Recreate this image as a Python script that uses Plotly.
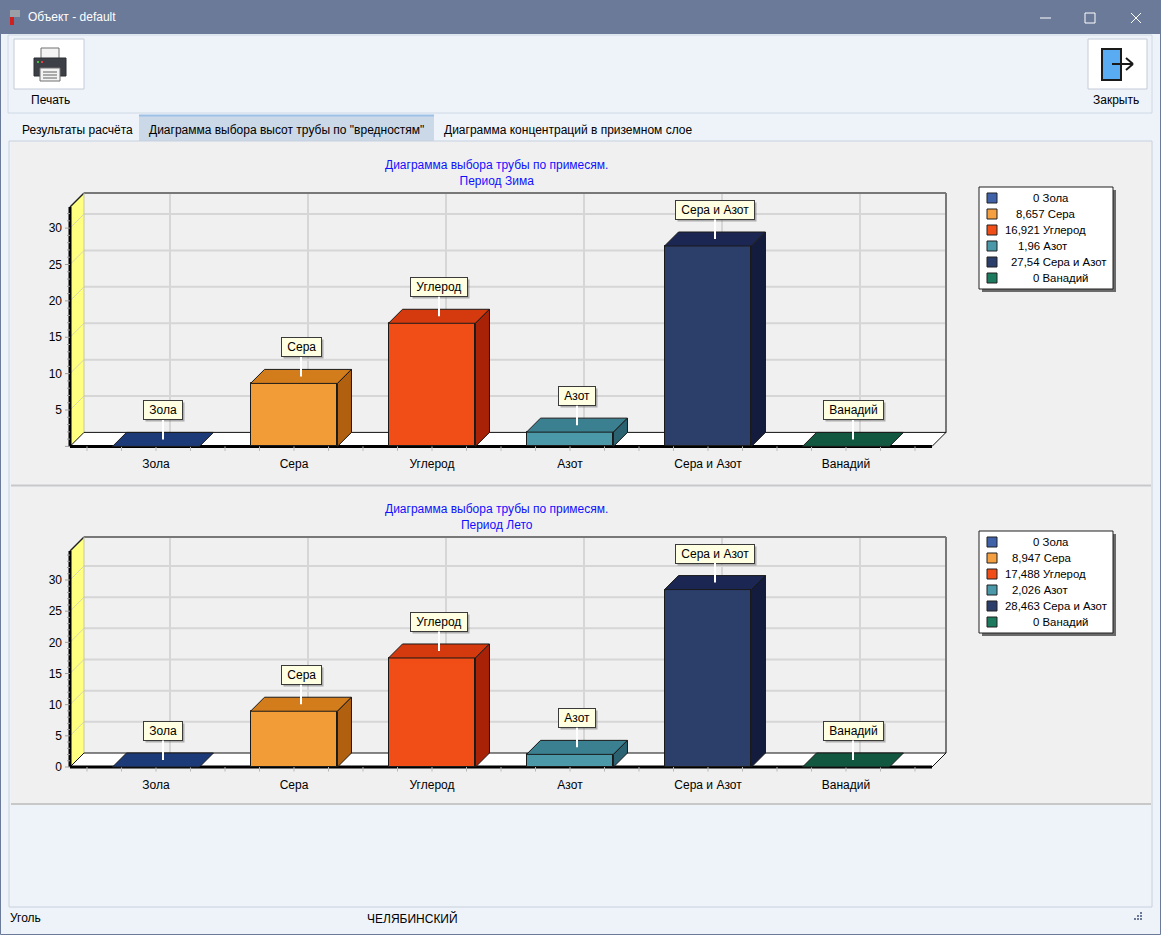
import plotly.graph_objects as go

# ---------------- data ----------------
categories = ["Зола", "Сера", "Углерод", "Азот", "Сера и Азот", "Ванадий"]
winter_values = [0, 8.657, 16.921, 1.96, 27.54, 0]
summer_values = [0, 8.947, 17.488, 2.026, 28.463, 0]
winter_ticks = [5, 10, 15, 20, 25, 30]
summer_ticks = [0, 5, 10, 15, 20, 25, 30]
chart_titles = ["Диаграмма выбора трубы по примесям.<br>Период Зима",
                "Диаграмма выбора трубы по примесям.<br>Период Лето"]
front_colors = ["#2f5496", "#f29c38", "#f04e16", "#4a98a8", "#2c3f6b", "#1c7a5e"]
top_colors = ["#1d3a78", "#d27c1c", "#d43a0e", "#3a8090", "#1b2652", "#12573f"]
side_colors = ["#142a5a", "#b0600f", "#a82208", "#2a6272", "#141c3e", "#0e4533"]
legend_colors = ["#3f62a8", "#f5a040", "#f04e16", "#4a98a8", "#2c3f6b", "#1c7a5e"]
tab_labels = ["Результаты расчёта", "Диаграмма выбора высот трубы по \"вредностям\"",
              "Диаграмма концентраций в приземном слое"]
window_title = "Объект - default"
status_left = "Уголь"
status_mid = "ЧЕЛЯБИНСКИЙ"

W, H = 1161, 935
FONT = "Liberation Sans, Arial, sans-serif"

def px(x):
    return x / W

def py(y):
    return 1 - y / H

shapes = []
annotations = []

def rect(x0, y0, x1, y1, fill=None, line=None, lw=1, layer="below"):
    shapes.append(dict(type="rect", xref="paper", yref="paper",
                       x0=px(x0), x1=px(x1), y0=py(y0), y1=py(y1),
                       fillcolor=fill if fill else "rgba(0,0,0,0)",
                       line=dict(color=line if line else "rgba(0,0,0,0)", width=lw if line else 0),
                       layer=layer))

def pline(x0, y0, x1, y1, color, lw=1, layer="below"):
    shapes.append(dict(type="line", xref="paper", yref="paper",
                       x0=px(x0), x1=px(x1), y0=py(y0), y1=py(y1),
                       line=dict(color=color, width=lw), layer=layer))

def text(x, y, s, anchor="left", size=12, color="black"):
    if anchor == "left":
        x -= 2
    annotations.append(dict(xref="paper", yref="paper", x=px(x), y=py(y), text=s,
                            xanchor=anchor, yanchor="middle", showarrow=False,
                            font=dict(family=FONT, size=size, color=color)))

# ---------------- window chrome ----------------
rect(0, 0, W, H, fill="#eef3fa")
rect(0, 0, W, 34, fill="#6b7a99")
rect(0.5, 0.5, W - 0.5, H - 0.5, line="#6b7a99", lw=1)
# title icon
rect(10, 10, 20, 17, fill="#9aa0a8")
rect(10, 17, 14, 25, fill="#d02020")
text(28, 17, window_title, color="white")
# window buttons
pline(1040, 18, 1051, 18, "white", 1)
rect(1085, 13, 1095, 23, line="white", lw=1)
pline(1131, 13, 1141, 23, "white", 1)
pline(1131, 23, 1141, 13, "white", 1)
# toolbar
rect(8, 35, 1152, 113, line="#cfd8e4", lw=1)
rect(14, 39, 84, 89, fill="white", line="#c4ccd8")
rect(41, 48, 59, 60, fill="#f4f4f4", line="#707070")
rect(34, 58, 66, 76, fill="#3c4046", line="#2a2d31")
rect(37, 61, 39, 63, fill="#40c040")
rect(41, 61, 43, 63, fill="#e04040")
rect(40, 68, 60, 81, fill="#f4f4f4", line="#707070")
pline(43, 72, 57, 72, "#606060", 1)
pline(43, 75, 57, 75, "#606060", 1)
pline(43, 78, 57, 78, "#606060", 1)
text(50, 100, "Печать", anchor="center")
rect(1088, 39, 1147, 89, fill="white", line="#c4ccd8")
rect(1102, 49, 1121, 80, fill="#5aacf2", line="#1a1a1a", lw=2)
pline(1112, 64, 1133, 64, "#1a1a1a", 2)
pline(1126, 58, 1133, 64, "#1a1a1a", 2)
pline(1126, 70, 1133, 64, "#1a1a1a", 2)
text(1116, 100, "Закрыть", anchor="center")
# tabs
rect(139, 115, 434, 141, fill="#cbd8e8")
pline(139, 115.5, 434, 115.5, "#9cc0e6", 2)
text(22, 130, tab_labels[0])
text(149, 130, tab_labels[1])
text(444, 130, tab_labels[2])
# content area
rect(9, 141, 1152, 907, fill="#eef3fa", line="#c8d0da")
rect(11, 142, 1151, 484, fill="#f0f0f0")
pline(11, 485.5, 1151, 485.5, "#c8c8c8", 2)
rect(11, 487, 1151, 803, fill="#f0f0f0")
pline(11, 804, 1151, 804, "#c8c8c8", 2)
# status bar
text(10, 918, status_left)
text(367, 918, status_mid)
for gx, gy in [(1141, 913), (1138, 916), (1141, 916), (1135, 919), (1138, 919), (1141, 919)]:
    rect(gx - 1, gy - 1, gx + 1, gy + 1, fill="#6b7a99")

# ---------------- charts ----------------
CAT0_PX = 156.0        # pixel x of first category centre (front plane)
CAT_PX = 138.0         # pixels per category
X_LEFT = (70 - CAT0_PX) / CAT_PX
X_RIGHT = (932 - CAT0_PX) / CAT_PX
DEPTH = 14.0           # 3D depth in pixels
BAR_W = 0.63
PAD = 6.0

def fmt(v):
    return ("%g" % v).replace(".", ",")

traces = []
layout_axes = {}

def build_chart(k, values, yticks, title, zero_px, top_px, ymax, legend_top, legend_left):
    xa = "x" if k == 0 else "x%d" % (k + 1)
    ya = "y" if k == 0 else "y%d" % (k + 1)
    ppu = (zero_px - top_px) / ymax
    DX = DEPTH / CAT_PX
    DY = DEPTH / ppu
    back_top_px = top_px - DEPTH
    dom_x = [px(70 - PAD), px(932 + DEPTH + PAD)]
    dom_y = [py(zero_px + PAD), py(back_top_px - PAD)]
    xr = [(70 - PAD - CAT0_PX) / CAT_PX, (932 + DEPTH + PAD - CAT0_PX) / CAT_PX]
    yr = [-PAD / ppu, (zero_px - back_top_px + PAD) / ppu]
    xkey = "xaxis" if k == 0 else "xaxis%d" % (k + 1)
    ykey = "yaxis" if k == 0 else "yaxis%d" % (k + 1)
    layout_axes[xkey] = dict(domain=dom_x, range=xr, anchor=ya, showgrid=False, zeroline=False,
                             showline=False, ticks="", tickvals=list(range(len(categories))),
                             ticktext=categories, ticklabelstandoff=3,
                             tickfont=dict(family=FONT, size=12, color="black"), fixedrange=True)
    layout_axes[ykey] = dict(domain=dom_y, range=yr, anchor=xa, showgrid=False, zeroline=False,
                             showline=False, ticks="", tickvals=yticks,
                             ticktext=[str(t) for t in yticks], ticklabelstandoff=1,
                             tickfont=dict(family=FONT, size=12, color="black"), fixedrange=True)

    def dshape(kind, **kw):
        d = dict(type=kind, xref=xa, yref=ya, layer="below")
        d.update(kw)
        shapes.append(d)

    def dpath(pts, fill, line_color="rgba(0,0,0,0)", lw=0):
        p = "M " + " L ".join("%f,%f" % (a, b) for a, b in pts) + " Z"
        dshape("path", path=p, fillcolor=fill, line=dict(color=line_color, width=lw))

    # yellow side wall
    dpath([(X_LEFT, 0), (X_LEFT, ymax), (X_LEFT + DX, ymax + DY), (X_LEFT + DX, DY)], "#ffff80")
    # gridlines (back wall + side wall)
    grid_vals = [t for t in yticks if t > 0]
    for t in grid_vals:
        dshape("line", x0=X_LEFT + DX, x1=X_RIGHT + DX, y0=t + DY, y1=t + DY,
               line=dict(color="#d6d6d6", width=2))
        dshape("line", x0=X_LEFT, x1=X_LEFT + DX, y0=t, y1=t + DY,
               line=dict(color="#d6d6b0", width=1))
    for i in range(len(categories)):
        dshape("line", x0=i + DX, x1=i + DX, y0=DY, y1=ymax + DY,
               line=dict(color="#d6d6d6", width=2))
    # back wall border
    dshape("line", x0=X_LEFT + DX, x1=X_RIGHT + DX, y0=ymax + DY, y1=ymax + DY,
           line=dict(color="#787878", width=2))
    dshape("line", x0=X_RIGHT + DX, x1=X_RIGHT + DX, y0=DY, y1=ymax + DY,
           line=dict(color="#787878", width=2))
    dshape("line", x0=X_LEFT, x1=X_LEFT + DX, y0=ymax, y1=ymax + DY,
           line=dict(color="#202020", width=1.5))
    dshape("line", x0=X_LEFT + DX, x1=X_LEFT + DX, y0=DY, y1=ymax + DY,
           line=dict(color="#c8c8a0", width=1))
    # floor
    dpath([(X_LEFT, 0), (X_LEFT + DX, DY), (X_RIGHT + DX, DY), (X_RIGHT, 0)], "white",
          "#101010", 1)
    dshape("line", x0=X_LEFT, x1=X_RIGHT, y0=0, y1=0, line=dict(color="black", width=3))
    dshape("line", x0=X_LEFT, x1=X_LEFT, y0=0, y1=ymax, line=dict(color="black", width=3))

    # minor ticks
    tx, ty = [], []
    n = int(round((X_RIGHT - X_LEFT) / 0.25)) + 2
    for j in range(n):
        v = -0.5 + 0.25 * j
        if v > X_RIGHT:
            break
        tx += [v, v, None]
        ty += [0, -4.5 / ppu, None]
    traces.append(go.Scatter(x=tx, y=ty, mode="lines", line=dict(color="#b8b8b8", width=1),
                             xaxis=xa, yaxis=ya, hoverinfo="skip", showlegend=False))
    yx, yy = [], []
    for j in range(int(ymax) + 1):
        ln = 5 if j % 5 == 0 else 3
        yx += [X_LEFT - ln / CAT_PX, X_LEFT, None]
        yy += [j, j, None]
    traces.append(go.Scatter(x=yx, y=yy, mode="lines", line=dict(color="#a0a0a0", width=1),
                             xaxis=xa, yaxis=ya, hoverinfo="skip", showlegend=False))

    # front faces
    traces.append(go.Bar(x=list(range(len(categories))), y=values, base=0, width=BAR_W,
                         marker=dict(color=front_colors, line=dict(color="#1a1a1a", width=1)),
                         xaxis=xa, yaxis=ya, hoverinfo="skip", showlegend=False))
    # top & side faces
    hw = BAR_W / 2
    for i, v in enumerate(values):
        top = [(i - hw, v), (i - hw + DX, v + DY), (i + hw + DX, v + DY), (i + hw, v), (i - hw, v)]
        traces.append(go.Scatter(x=[p[0] for p in top], y=[p[1] for p in top], fill="toself",
                                 fillcolor=top_colors[i], mode="lines",
                                 line=dict(color="#1a1a1a", width=1),
                                 xaxis=xa, yaxis=ya, hoverinfo="skip", showlegend=False))
        if v > 0:
            side = [(i + hw, 0), (i + hw + DX, DY), (i + hw + DX, v + DY), (i + hw, v), (i + hw, 0)]
            traces.append(go.Scatter(x=[p[0] for p in side], y=[p[1] for p in side], fill="toself",
                                     fillcolor=side_colors[i], mode="lines",
                                     line=dict(color="#1a1a1a", width=1),
                                     xaxis=xa, yaxis=ya, hoverinfo="skip", showlegend=False))
    # callout labels
    for i, v in enumerate(values):
        base = dict(xref=xa, yref=ya, x=i + DX / 2, y=v + DY / 2, ax=0, ay=-29,
                    showarrow=True, arrowhead=0, borderpad=2, borderwidth=1,
                    text="&nbsp;" + categories[i] + "&nbsp;")
        sh = dict(base)
        sh.update(arrowcolor="rgba(0,0,0,0)", bgcolor="rgba(90,90,90,0.45)",
                  bordercolor="rgba(0,0,0,0)", xshift=2, yshift=-2,
                  font=dict(family=FONT, size=12, color="rgba(0,0,0,0)"))
        annotations.append(sh)
        lb = dict(base)
        lb.update(arrowcolor="white", arrowwidth=2, bgcolor="#ffffe1", bordercolor="#3a3a3a",
                  font=dict(family=FONT, size=12, color="black"))
        annotations.append(lb)

    # title
    annotations.append(dict(xref="paper", yref="paper", x=px(496), y=py(back_top_px - 20),
                            text=title, showarrow=False, xanchor="center", yanchor="middle",
                            font=dict(family=FONT, size=12, color="#1010ff")))

    # legend box
    rect(982, legend_top + 3, 1116, legend_top + 105, fill="#6a6a6a")
    rect(979, legend_top, 1113, legend_top + 102, fill="white", line="#202020")
    for i, v in enumerate(values):
        ry = legend_top + 11 + 16 * i
        rect(987, ry - 5, 997, ry + 5, fill=legend_colors[i], line="#202020")
        text(legend_left[i], ry, fmt(v) + " " + categories[i], size=11.4)


build_chart(0, winter_values, winter_ticks, chart_titles[0], 446.4, 207.0, 32.9, 187,
            [1033, 1016, 1005, 1018, 1011, 1033])
build_chart(1, summer_values, summer_ticks, chart_titles[1], 767.0, 551.0, 34.65, 531,
            [1033, 1012, 1005, 1012, 1005, 1033])

fig = go.Figure(data=traces)
fig.update_layout(width=W, height=H, autosize=False, margin=dict(l=0, r=0, t=0, b=0),
                  paper_bgcolor="white", plot_bgcolor="rgba(0,0,0,0)",
                  shapes=shapes, annotations=annotations, showlegend=False,
                  font=dict(family=FONT, size=12, color="black"), bargap=0, **layout_axes)
fig.write_html("out.html", config={"displayModeBar": False},
               post_script="document.body.style.margin='0';")
